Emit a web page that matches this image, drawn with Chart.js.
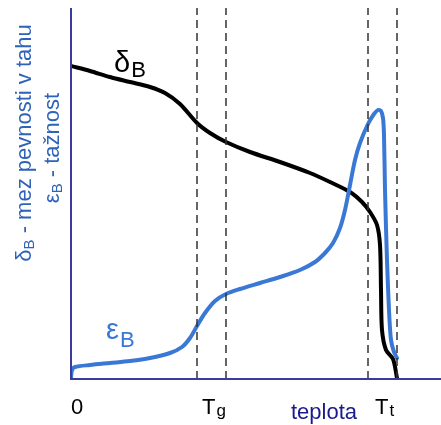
<!DOCTYPE html>
<html>
<head>
<meta charset="utf-8">
<script src="https://cdn.jsdelivr.net/npm/chart.js@4/dist/chart.umd.min.js"></script>
<style>
  html, body { margin: 0; padding: 0; background: #fff; }
  #wrap { width: 441px; height: 425px; }
</style>
</head>
<body>
<div id="wrap"><canvas id="graf"></canvas></div>
<script>
// mez pevnosti v tahu (delta_B) - x = teplota, y = hodnota (libovolne jednotky)
const deltaX = [0, 19, 39, 59, 79, 94, 109, 126, 139, 155, 179, 209, 239, 259, 279, 291, 299, 306, 309, 310, 311, 315, 322, 326];
const deltaY = [313, 308, 302, 297, 292, 286, 275, 256, 246, 237, 227, 217, 206, 197, 187, 177, 167, 154, 134, 89, 49, 29, 20, 1];

// tažnost (epsilon_B)
const epsX = [0, 1, 4, 19, 39, 59, 79, 99, 111, 119, 126, 134, 144, 155, 169, 189, 209, 229, 244, 254, 262, 269, 274, 279, 284, 289, 297, 303, 307, 310, 312, 313, 314, 316, 318, 320, 323, 326];
const epsY = [1, 9, 12, 14, 16, 18, 21, 26, 32, 41, 53, 66, 78, 85, 90, 96, 102, 109, 117, 126, 136, 151, 169, 194, 219, 236, 255, 265, 269, 268, 261, 244, 189, 119, 69, 39, 27, 21];

// svisle carkovane cary (Tg a Tt)
const dashX = [126, 155, 297, 326];

// popisky osy x
const tickLabels = [
  { x: 0, main: '0', sub: '' },
  { x: 131, main: 'T', sub: 'g' },
  { x: 304, main: 'T', sub: 't' }
];

const X_MAX = 370;
const Y_MAX = 371;

const toPoints = (xs, ys) => xs.map((x, i) => ({ x: x, y: ys[i] }));

const datasets = [];
dashX.forEach(x => {
  datasets.push({
    data: [{ x: x, y: 0 }, { x: x, y: Y_MAX }],
    borderColor: '#333',
    borderWidth: 1.5,
    borderDash: [8, 5],
    pointRadius: 0,
    tension: 0
  });
});
datasets.push({
  label: 'epsB',
  data: toPoints(epsX, epsY),
  borderColor: '#3a78d6',
  borderWidth: 4,
  pointRadius: 0,
  tension: 0.3,
  borderCapStyle: 'round',
  borderJoinStyle: 'round'
});
datasets.push({
  label: 'deltaB',
  data: toPoints(deltaX, deltaY),
  borderColor: '#000',
  borderWidth: 4,
  pointRadius: 0,
  tension: 0.3,
  borderCapStyle: 'round',
  borderJoinStyle: 'round'
});

const FONT = 'Arial, "Liberation Sans", sans-serif';

// texty kreslene pres plugin
const popisky = {
  id: 'popisky',
  afterDraw(chart) {
    const ctx = chart.ctx;
    const sx = chart.scales.x;
    const area = chart.chartArea;
    ctx.save();

    // osy
    ctx.strokeStyle = '#3b3b9c';
    ctx.lineWidth = 2;
    ctx.beginPath();
    ctx.moveTo(area.left, area.top);
    ctx.lineTo(area.left, area.bottom);
    ctx.lineTo(441, area.bottom);
    ctx.stroke();

    // popisky osy x
    ctx.fillStyle = '#000';
    ctx.textBaseline = 'alphabetic';
    ctx.textAlign = 'left';
    tickLabels.forEach(t => {
      const px = sx.getPixelForValue(t.x);
      ctx.font = '22px ' + FONT;
      ctx.fillText(t.main, px, 414);
      const w = ctx.measureText(t.main).width;
      if (t.sub) {
        ctx.font = '17px ' + FONT;
        ctx.fillText(t.sub, px + w + 1, 416);
      }
    });

    // teplota
    ctx.fillStyle = '#1a1a8c';
    ctx.font = '22px ' + FONT;
    ctx.fillText('teplota', 291, 419);

    // delta_B u krivky
    const withSub = (x, y, main, sub, color, yOff) => {
      ctx.fillStyle = color;
      ctx.font = '29px ' + FONT;
      ctx.fillText(main, x, y);
      const w = ctx.measureText(main).width;
      ctx.font = '22px ' + FONT;
      ctx.fillText(sub, x + w + 1, y + yOff);
    };
    withSub(sx.getPixelForValue(43), 72, 'δ', 'B', '#000', 5);
    withSub(sx.getPixelForValue(35), 339, 'ε', 'B', '#3a78d6', 8);

    // titulek osy y (dva radky, otoceno)
    const drawRot = (cx, cy, parts) => {
      ctx.save();
      ctx.translate(cx, cy);
      ctx.rotate(-Math.PI / 2);
      let total = 0;
      parts.forEach(p => { ctx.font = p.font; total += ctx.measureText(p.t).width; });
      let x = -total / 2;
      parts.forEach(p => {
        ctx.font = p.font;
        ctx.fillText(p.t, x, p.dy);
        x += ctx.measureText(p.t).width;
      });
      ctx.restore();
    };
    ctx.fillStyle = '#2f63b8';
    const big = '22px ' + FONT;
    const small = '15px ' + FONT;
    drawRot(31, 143, [
      { t: 'δ', font: big, dy: 0 },
      { t: 'B', font: small, dy: 3 },
      { t: ' - mez pevnosti v tahu', font: big, dy: 0 }
    ]);
    drawRot(59, 148, [
      { t: 'ε', font: big, dy: 0 },
      { t: 'B', font: small, dy: 3 },
      { t: ' - tažnost', font: big, dy: 0 }
    ]);

    ctx.restore();
  }
};

new Chart(document.getElementById('graf'), {
  type: 'line',
  data: { datasets: datasets },
  options: {
    responsive: true,
    maintainAspectRatio: false,
    animation: false,
    layout: { padding: { left: 71, top: 8, right: 0, bottom: 46 } },
    plugins: {
      legend: { display: false },
      tooltip: { enabled: false }
    },
    scales: {
      x: {
        type: 'linear',
        min: 0,
        max: X_MAX,
        ticks: { display: false },
        grid: { display: false },
        border: { display: false },
        afterFit(scale) { scale.height = 0; }
      },
      y: {
        type: 'linear',
        min: 0,
        max: Y_MAX,
        ticks: { display: false },
        grid: { display: false },
        border: { display: false },
        afterFit(scale) { scale.width = 0; }
      }
    }
  },
  plugins: [popisky]
});
</script>
</body>
</html>
